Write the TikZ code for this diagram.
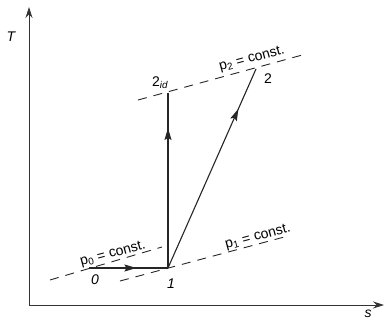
\documentclass[tikz,border=0pt]{standalone}
\usepackage{fontspec}
\setmainfont{Liberation Sans}
\usetikzlibrary{arrows.meta,decorations.markings}
\begin{document}
\begin{tikzpicture}[x=1pt,y=-1pt,
  axis/.style={line width=0.9pt,draw=black!80,-{Stealth[length=11pt,width=7pt]}},
  proc/.style={line width=1.1pt,draw=black!85,postaction={decorate},
    decoration={markings,mark=at position #1 with {\arrow{Stealth[length=12pt,width=7pt,inset=2pt]}}}},
  isobar/.style={line width=0.9pt,draw=black!85,dash pattern=on 9pt off 7pt},
  lbl/.style={font=\fontsize{14}{14}\selectfont,inner sep=0pt},
  pt/.style={inner sep=0pt,minimum size=0pt}]
\useasboundingbox (0,0) rectangle (384,320);
% points
\coordinate (O) at (29,305);
\coordinate (ytop) at (29,7);
\coordinate (xend) at (384,305);
\coordinate (p0) at (89,268);
\coordinate (p1) at (168,268);
\coordinate (p2id) at (168,93);
\coordinate (p2) at (256,69);
% isobars
\coordinate (a0) at (50,280); \coordinate (b0) at (162,247);
\coordinate (a1) at (120,281); \coordinate (b1) at (288,236);
\coordinate (a2) at (138,100); \coordinate (b2) at (306,54);
\draw[isobar] (a0) -- (b0);
\draw[isobar] (a1) -- (b1);
\draw[isobar] (a2) -- (b2);
% axes
\draw[axis] (O) -- (ytop);
\draw[axis] (O) -- (xend);
\node[lbl] (T) at (11,37) {\itshape T};
\node[lbl] (s) at (368,314) {\itshape s};
% processes
\draw[proc=0.6] (p0) -- (p1);
\draw[proc=0.8] (p1) -- (p2id);
\draw[proc=0.8] (p1) -- (p2);
% labels
\node[lbl] (l0) at (95,280) {\itshape 0};
\node[lbl] (l1) at (171,284) {\itshape 1};
\node[lbl] (l2id) at (160,83) {2\textsubscript{\itshape id}};
\node[lbl] (l2) at (268,79) {2};
\node[lbl,rotate=15] (c0) at (113,254) {p\textsubscript{0} = const.};
\node[lbl,rotate=15] (c1) at (258,237) {p\textsubscript{1} = const.};
\node[lbl,rotate=15] (c2) at (252,59) {p\textsubscript{2} = const.};
\end{tikzpicture}
\end{document}
